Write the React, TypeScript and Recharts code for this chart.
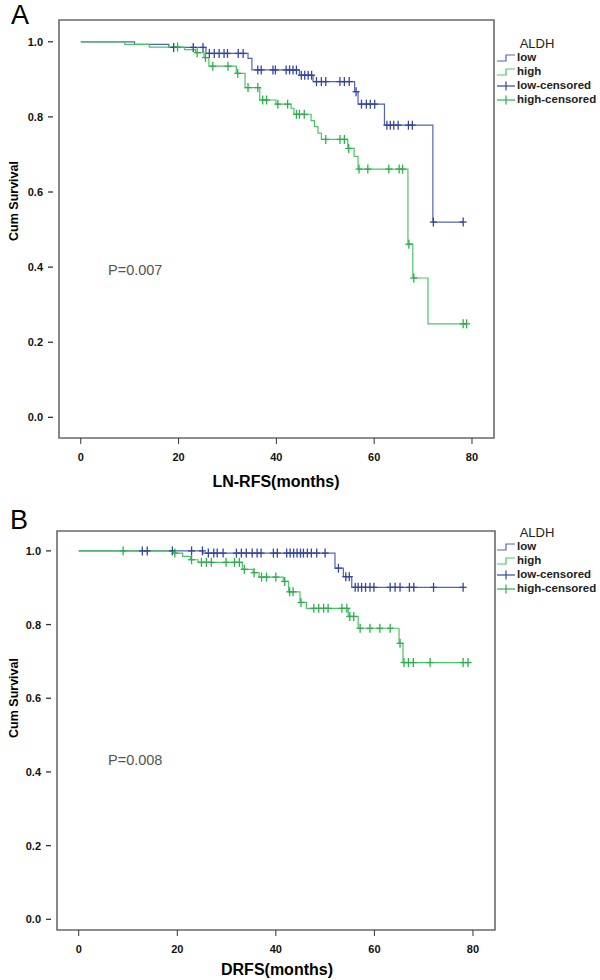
import React from "react";
import { ComposedChart, Line, Scatter, XAxis, YAxis, ReferenceArea } from "recharts";

// Kaplan-Meier steps: [months, cumulative survival]
const lnLowSteps: [number, number][] = [
  [0, 1], [11, 0.993], [18, 0.985], [25.6, 0.969], [34.2, 0.956], [35, 0.925],
  [44.7, 0.911], [47.5, 0.894], [56, 0.867], [56.7, 0.834], [62.1, 0.778], [72, 0.52], [78.2, 0.52],
];
const lnHighSteps: [number, number][] = [
  [0, 1], [9, 0.993], [14, 0.986], [21.2, 0.979], [23.5, 0.971], [25.2, 0.958], [26.2, 0.935],
  [31.8, 0.916], [33.6, 0.878], [36.6, 0.845], [39.9, 0.834], [43, 0.823], [43.6, 0.807],
  [47.1, 0.79], [47.8, 0.774], [48.5, 0.757], [49.2, 0.74], [54.6, 0.716], [55.9, 0.695],
  [56.7, 0.661], [66.9, 0.461], [67.9, 0.371], [71, 0.249], [78.9, 0.249],
];
const lnLowCensored = [
  19, 23, 25, 26.3, 27.3, 28.3, 29.3, 30, 32.2, 33.2, 36.2, 36.9, 39.3, 39.8, 42, 42.7, 43.4, 44.1,
  45.1, 45.8, 46.5, 47.2, 48.2, 49.2, 50.1, 53, 53.9, 54.9, 56.3, 57.4, 58.4, 59.2, 60.1,
  62.6, 63.3, 64, 64.9, 67, 67.8, 72.1, 78.2,
];
const lnHighCensored = [
  19.8, 23.8, 25.5, 27, 30.1, 32.1, 34.2, 36.2, 37.2, 38, 40.3, 42.3, 44.1, 44.7, 45.7,
  50.1, 53, 53.9, 54.8, 56.9, 58.7, 63, 65.1, 65.8, 67.1, 68.1, 78.2, 78.9,
];

const drLowSteps: [number, number][] = [
  [0, 1], [25.2, 0.994], [52, 0.953], [53.7, 0.93], [55.4, 0.901], [78, 0.901],
];
const drHighSteps: [number, number][] = [
  [0, 1], [19.1, 0.994], [21.1, 0.985], [22.7, 0.976], [24.2, 0.969], [33.2, 0.95], [35.4, 0.941],
  [36.6, 0.929], [41.5, 0.917], [42.6, 0.889], [44.9, 0.86], [46.2, 0.844], [54.7, 0.822],
  [56.7, 0.79], [65, 0.749], [65.8, 0.697], [79, 0.697],
];
const drLowCensored = [
  12.9, 13.9, 19, 22.9, 25.1, 26.3, 27.4, 28.1, 29.3, 32, 33, 34, 35.2, 36.2, 37, 39.5, 40.3,
  42.2, 42.9, 43.6, 44.3, 45, 45.6, 46.4, 47.2, 48.3, 50, 52.7, 54.2, 54.9, 56.1, 56.7, 57.4,
  58.2, 59.1, 59.9, 63.2, 64.2, 65.2, 67.1, 68, 72, 78,
];
const drHighCensored = [
  9, 19.5, 22.9, 24.9, 25.9, 26.9, 29.9, 31.6, 32.6, 33.6, 35.6, 37.1, 38.1, 40, 41.8, 42.8,
  43.5, 45.1, 47.7, 48.7, 49.7, 50.6, 53.4, 54.4, 55, 55.8, 57.1, 59.1, 61.1, 63.2, 65.2,
  66, 66.9, 67.9, 71.3, 78, 79,
];

const xTicks = [0, 20, 40, 60, 80];
const yTicks = [0, 0.2, 0.4, 0.6, 0.8, 1.0];
const legendNames = ["low", "high", "low-censored", "high-censored"];

const BLUE = "#5264b4";
const BLUE_MARK = "#34469c";
const GREEN = "#4cc468";
const GREEN_MARK = "#2fae4c";
const FONT = "'Liberation Sans', Arial, sans-serif";

const toPts = (steps: [number, number][]) => steps.map(([t, s]) => ({ t, s }));
// value of the step curve at a censoring time
const survAt = (steps: [number, number][], t: number) => {
  let s = steps[0][1];
  for (const [tt, ss] of steps) if (tt <= t) s = ss;
  return s;
};
const censorPts = (steps: [number, number][], times: number[]) =>
  times.map((t) => ({ t, s: survAt(steps, t) }));

const plus = (color: string) => (p: any) => (
  <g stroke={color} strokeWidth={1.3}>
    <line x1={p.cx - 3.5} x2={p.cx + 3.5} y1={p.cy} y2={p.cy} />
    <line x1={p.cx} x2={p.cx} y1={p.cy - 4.5} y2={p.cy + 4.5} />
  </g>
);

const YTick = (p: any) => (
  <g>
    <line x1={p.x + 5} x2={p.x + 10} y1={p.y} y2={p.y} stroke="#333" strokeWidth={1.3} />
    <text x={p.x} y={p.y} dy={4} textAnchor="end" fontSize={11} fontWeight="bold" fill="#111" fontFamily={FONT}>
      {Number(p.payload.value).toFixed(1)}
    </text>
  </g>
);

const Txt = ({ x, y, children, style, left }: any) => (
  <div
    style={{
      position: "absolute", left: x, top: y, lineHeight: 1, whiteSpace: "nowrap", fontFamily: FONT,
      transform: left ? "translateY(-50%)" : "translate(-50%,-50%)", ...style,
    }}
  >
    {children}
  </div>
);

function LegendBox({ top }: { top: number }) {
  return (
    <div>
      <Txt x={537} y={top} style={{ fontSize: 13, color: "#222" }}>ALDH</Txt>
      {legendNames.map((n, i) => {
        const y = top + 15 + i * 14;
        const col = i % 2 === 0 ? BLUE : GREEN;
        return (
          <div key={n}>
            <svg style={{ position: "absolute", left: 497, top: y - 6, overflow: "visible" }} width={20} height={12}>
              {i < 2 ? (
                <path d="M0,9 H9 V3 H18" fill="none" stroke={col} strokeWidth={1.2} />
              ) : (
                <g stroke={i === 2 ? BLUE_MARK : GREEN_MARK} strokeWidth={1.2}>
                  <line x1={0} x2={18} y1={6} y2={6} />
                  <line x1={9} x2={9} y1={1.5} y2={10.5} />
                </g>
              )}
            </svg>
            <Txt x={517} y={y} left style={{ fontSize: 11.5, fontWeight: "bold", color: "#222" }}>{n}</Txt>
          </div>
        );
      })}
    </div>
  );
}

function KMPanel(props: {
  top: number; marginTop: number; marginBottom: number; marginRight: number; yAxisW: number;
  yDomain: [number, number]; xDomain: [number, number];
  low: [number, number][]; high: [number, number][]; lowC: number[]; highC: number[];
}) {
  const { top, yDomain, xDomain } = props;
  return (
    <div style={{ position: "absolute", left: 0, top }}>
      <ComposedChart
        width={600}
        height={490}
        margin={{ top: props.marginTop, right: props.marginRight, bottom: props.marginBottom, left: 0 }}
      >
        <XAxis
          dataKey="t" type="number" domain={xDomain} ticks={xTicks} allowDataOverflow
          axisLine={false} tickSize={6} tickMargin={9} stroke="#333" height={30}
          tick={{ fontSize: 11, fontWeight: "bold", fill: "#111", fontFamily: FONT }}
        />
        <YAxis
          dataKey="s" type="number" domain={yDomain} ticks={yTicks} allowDataOverflow
          axisLine={false} tickLine={false} tickSize={11} tickMargin={5} width={props.yAxisW} tick={<YTick />}
        />
        <ReferenceArea
          x1={xDomain[0]} x2={xDomain[1]} y1={yDomain[0]} y2={yDomain[1]}
          fill="none" stroke="#6a6a6a" strokeWidth={1.6} ifOverflow="visible"
        />
        <Line data={toPts(props.low)} dataKey="s" type="stepAfter" stroke={BLUE} strokeWidth={1.2} dot={false} isAnimationActive={false} />
        <Line data={toPts(props.high)} dataKey="s" type="stepAfter" stroke={GREEN} strokeWidth={1.2} dot={false} isAnimationActive={false} />
        <Scatter data={censorPts(props.low, props.lowC)} dataKey="s" shape={plus(BLUE_MARK)} isAnimationActive={false} />
        <Scatter data={censorPts(props.high, props.highC)} dataKey="s" shape={plus(GREEN_MARK)} isAnimationActive={false} />
      </ComposedChart>
    </div>
  );
}

export default function App() {
  return (
    <div style={{ position: "absolute", left: 0, top: 0, width: 600, height: 980, background: "#fff", overflow: "hidden" }}>
      <KMPanel
        top={0} marginTop={20} marginBottom={22} marginRight={106} yAxisW={59}
        xDomain={[-4.45, 84.5]} yDomain={[-0.055, 1.058]}
        low={lnLowSteps} high={lnHighSteps} lowC={lnLowCensored} highC={lnHighCensored}
      />
      <KMPanel
        top={490} marginTop={41} marginBottom={20} marginRight={105} yAxisW={57}
        xDomain={[-4.41, 84.47]} yDomain={[-0.029, 1.054]}
        low={drLowSteps} high={drHighSteps} lowC={drLowCensored} highC={drHighCensored}
      />

      <Txt x={20} y={15} style={{ fontSize: 27 }}>A</Txt>
      <Txt x={19} y={520} style={{ fontSize: 27 }}>B</Txt>

      <Txt x={14} y={201} style={{ fontSize: 12.5, fontWeight: "bold", transform: "translate(-50%,-50%) rotate(-90deg)" }}>Cum Survival</Txt>
      <Txt x={14} y={698} style={{ fontSize: 12.5, fontWeight: "bold", transform: "translate(-50%,-50%) rotate(-90deg)" }}>Cum Survival</Txt>

      <Txt x={276} y={482} style={{ fontSize: 16, fontWeight: "bold" }}>LN-RFS(months)</Txt>
      <Txt x={277} y={970} style={{ fontSize: 16, fontWeight: "bold" }}>DRFS(months)</Txt>

      <Txt x={108} y={270} left style={{ fontSize: 14.5, color: "#555" }}>P=0.007</Txt>
      <Txt x={108} y={760} left style={{ fontSize: 14.5, color: "#555" }}>P=0.008</Txt>

      <LegendBox top={43} />
      <LegendBox top={532} />
    </div>
  );
}
